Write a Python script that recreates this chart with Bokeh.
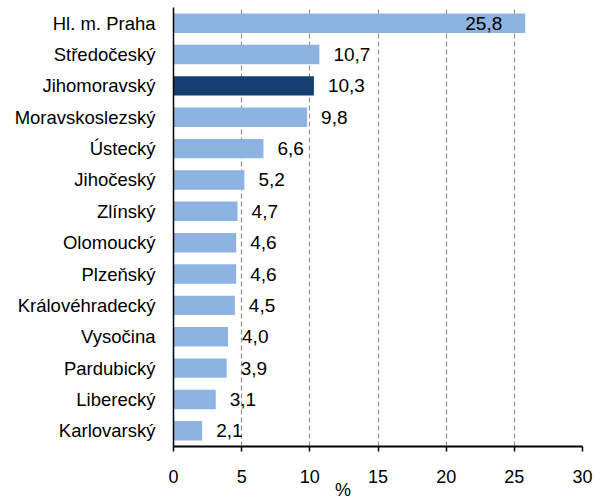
from bokeh.plotting import figure
from bokeh.models import FactorRange, Range1d, FixedTicker, ColumnDataSource
from bokeh.core.properties import value
from bokeh.embed import file_html
from bokeh.resources import INLINE

regions = ["Hl. m. Praha", "Středočeský", "Jihomoravský", "Moravskoslezský", "Ústecký",
           "Jihočeský", "Zlínský", "Olomoucký", "Plzeňský", "Královéhradecký",
           "Vysočina", "Pardubický", "Liberecký", "Karlovarský"]
values = [25.8, 10.7, 10.3, 9.8, 6.6, 5.2, 4.7, 4.6, 4.6, 4.5, 4.0, 3.9, 3.1, 2.1]
highlight = "Jihomoravský"
x_ticks = [0, 5, 10, 15, 20, 25, 30]
axis_title = "%"

FONT = "Liberation Sans"
LIGHT = "#8DB3E2"
DARK = "#153F70"

colors = [DARK if r == highlight else LIGHT for r in regions]
labels = [f"{v:.1f}".replace(".", ",") for v in values]
inside = [v > 20 for v in values]

src = ColumnDataSource(dict(region=regions, value=values, color=colors, label=labels))
src_out = ColumnDataSource(dict(
    region=[r for r, i in zip(regions, inside) if not i],
    value=[v for v, i in zip(values, inside) if not i],
    label=[l for l, i in zip(labels, inside) if not i]))
src_in = ColumnDataSource(dict(
    region=[r for r, i in zip(regions, inside) if i],
    value=[v for v, i in zip(values, inside) if i],
    label=[l for l, i in zip(labels, inside) if i]))

p = figure(width=595, height=504,
           y_range=FactorRange(factors=list(reversed(regions))),
           x_range=Range1d(x_ticks[0], x_ticks[-1]),
           output_backend="svg", toolbar_location=None,
           min_border_left=173, min_border_right=13,
           min_border_top=7, min_border_bottom=58)

p.hbar(y="region", right="value", left=0, height=0.62, color="color",
       line_color=None, source=src)

p.text(x="value", y="region", text="label", source=src_out,
       x_offset=14, text_align="left", text_baseline="middle",
       text_font=value(FONT), text_font_size="19px", text_color="black")
p.text(x="value", y="region", text="label", source=src_in,
       x_offset=-23, text_align="right", text_baseline="middle",
       text_font=value(FONT), text_font_size="19px", text_color="black")

p.outline_line_color = None
p.ygrid.grid_line_color = None
p.xgrid.ticker = FixedTicker(ticks=x_ticks)
p.xgrid.grid_line_color = "#939393"
p.xgrid.grid_line_dash = "5 3"
p.xgrid.grid_line_width = 1.2

xa = p.xaxis[0]
xa.ticker = FixedTicker(ticks=x_ticks)
xa.axis_line_color = "black"
xa.axis_line_width = 2
xa.major_tick_line_color = "black"
xa.major_tick_line_width = 1.5
xa.major_tick_out = 5
xa.major_tick_in = 0
xa.minor_tick_line_color = None
xa.major_label_standoff = 18
xa.major_label_text_font = FONT
xa.major_label_text_font_size = "18px"
xa.major_label_text_color = "black"
# non-breaking spaces shift the visible "%" left of the frame centre, as in the reference
xa.axis_label = axis_title + "\u00a0" * 14
xa.axis_label_standoff = -6
xa.axis_label_text_font = FONT
xa.axis_label_text_font_size = "18px"
xa.axis_label_text_font_style = "normal"
xa.axis_label_text_color = "black"

ya = p.yaxis[0]
ya.axis_line_color = "black"
ya.axis_line_width = 1.5
ya.major_tick_line_color = None
ya.major_tick_out = 0
ya.major_tick_in = 0
ya.minor_tick_line_color = None
ya.major_label_standoff = 18
ya.major_label_text_font = FONT
ya.major_label_text_font_size = "18.5px"
ya.major_label_text_color = "black"

open("out.html", "w").write(file_html(p, INLINE))
